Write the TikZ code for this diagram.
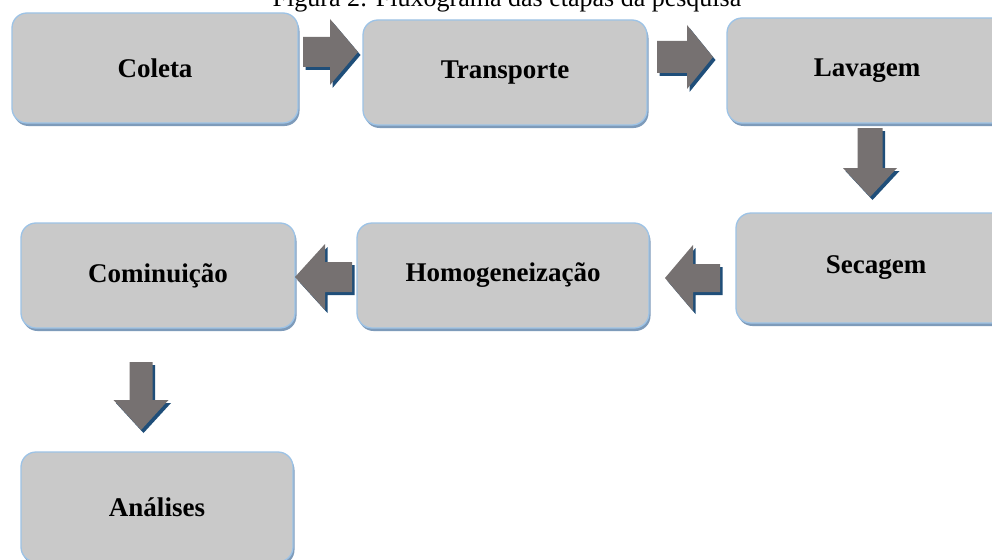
\documentclass[tikz,border=0pt]{standalone}
\usepackage{fontspec}
\setmainfont{Liberation Serif}
\usetikzlibrary{shadows}
\definecolor{boxfill}{HTML}{C9C9C9}
\definecolor{boxline}{HTML}{9DC3E6}
\definecolor{boxshadow}{HTML}{7E9BBA}
\definecolor{arrfill}{HTML}{767171}
\definecolor{arrshadow}{HTML}{1F4E79}
\tikzset{
  stepbox/.style={draw=boxline, line width=1.3pt, fill=boxfill, rounded corners=15pt,
    font=\fontsize{27}{30}\selectfont\bfseries, text=black, inner sep=0pt,
    drop shadow={shadow xshift=1.5pt, shadow yshift=-3pt, fill=boxshadow, opacity=1}},
  blockarrow/.style={fill=arrfill, draw=none},
  blockshadow/.style={fill=arrshadow, draw=none, shift={(2.5,3)}}
}
% horizontal block arrow: xtail, xbase, xtip, ycenter, shaft half-width, head half-width
\newcommand\harr[7][]{%
  \path[#1] (#2,{#5-#6}) -- (#3,{#5-#6}) -- (#3,{#5-#7}) -- (#4,#5) -- (#3,{#5+#7}) -- (#3,{#5+#6}) -- (#2,{#5+#6}) -- cycle;}
% vertical block arrow: ytail, ybase, ytip, xcenter, shaft half-width, head half-width
\newcommand\varr[7][]{%
  \path[#1] ({#5-#6},#2) -- ({#5-#6},#3) -- ({#5-#7},#3) -- (#5,#4) -- ({#5+#7},#3) -- ({#5+#6},#3) -- ({#5+#6},#2) -- cycle;}
\begin{document}
\begin{tikzpicture}[x=1pt,y=-1pt]
\clip (0,0) rectangle (992,559);
\fill[white] (0,0) rectangle (992,559);
% title
\node[font=\fontsize{26}{30}\selectfont, anchor=base, inner sep=0pt] (title) at (507,7) {Figura 2: Fluxograma das etapas da pesquisa};
% boxes
\node[stepbox, minimum width=286pt, minimum height=110pt] (coleta) at (155,68) {Coleta};
\node[stepbox, minimum width=284pt, minimum height=105pt] (transporte) at (505,72.5) {Transporte};
\node[stepbox, minimum width=280pt, minimum height=105pt] (lavagem) at (867,70.5) {Lavagem};
\node[stepbox, minimum width=280pt, minimum height=110pt] (secagem) at (876,268) {Secagem};
\node[stepbox, minimum width=292pt, minimum height=105pt] (homog) at (503,275.5) {Homogeneização};
\node[stepbox, minimum width=274pt, minimum height=105pt] (cominuicao) at (158,275.5) {Cominuição};
\node[stepbox, minimum width=272pt, minimum height=110pt] (analises) at (157,507) {Análises};
% block arrows (shadow, then arrow)
\harr[blockshadow]{303}{330}{358}{52}{15}{33}
\harr[blockarrow]{303}{330}{358}{52}{15}{33}
\harr[blockshadow]{657}{687}{713}{57}{16}{32}
\harr[blockarrow]{657}{687}{713}{57}{16}{32}
\varr[blockshadow]{128}{168}{197}{870}{12.5}{27}
\varr[blockarrow]{128}{168}{197}{870}{12.5}{27}
\harr[blockshadow]{720}{693}{665}{278}{14}{33}
\harr[blockarrow]{720}{693}{665}{278}{14}{33}
\harr[blockshadow]{352}{325}{295}{277}{15}{33}
\harr[blockarrow]{352}{325}{295}{277}{15}{33}
\varr[blockshadow]{362}{400}{430}{141}{11.5}{27.5}
\varr[blockarrow]{362}{400}{430}{141}{11.5}{27.5}
\end{tikzpicture}
\end{document}
